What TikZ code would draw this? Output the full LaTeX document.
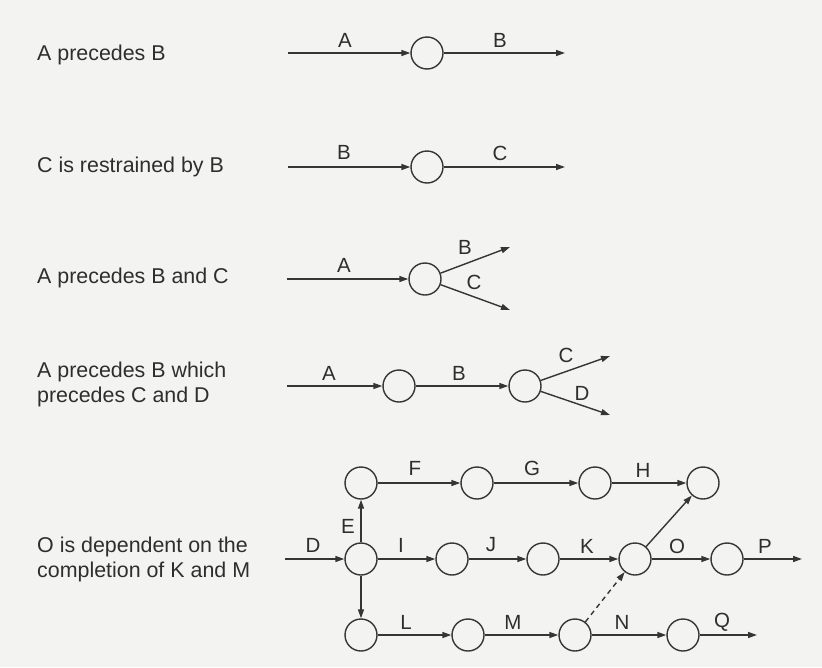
\documentclass[tikz,border=0pt]{standalone}
\usepackage{fontspec}
\setmainfont{Liberation Sans}
\usetikzlibrary{arrows.meta}
\definecolor{linec}{HTML}{353535}
\definecolor{textc}{HTML}{2E2E2E}
\definecolor{paper}{HTML}{F3F3F1}
\begin{document}
\begin{tikzpicture}[x=1pt,y=-1pt,
  ev/.style={circle, draw=linec, line width=1.4pt, minimum size=32pt, inner sep=0pt},
  arr/.style={draw=linec, line width=1.4pt, -{Triangle[length=9pt,width=6pt]}},
  dsh/.style={arr, dash pattern=on 5pt off 4pt},
  lbl/.style={text=textc, font=\fontsize{20.5}{24}\selectfont, inner sep=0pt},
  desc/.style={text=textc, font=\fontsize{21.4}{25}\selectfont, inner sep=0pt, anchor=west, align=left}]
\fill[paper] (0,0) rectangle (822,667);
\useasboundingbox (0,0) rectangle (822,667);

% descriptions
\node[desc] (t1) at (37,55) {A precedes B};
\node[desc] (t2) at (37,167) {C is restrained by B};
\node[desc] (t3) at (37,278) {A precedes B and C};
\node[desc] (t4) at (37,384) {A precedes B which\\precedes C and D};
\node[desc] (t5) at (37,559) {O is dependent on the\\completion of K and M};

% row 1
\coordinate (r1s) at (288,53);
\node[ev] (r1n) at (427,53) {};
\coordinate (r1e) at (565,53);
\draw[arr] (r1s) -- (r1n);
\draw[arr] (r1n) -- (r1e);
\node[lbl] (r1a) at (345,40) {A};
\node[lbl] (r1b) at (500,40) {B};

% row 2
\coordinate (r2s) at (288,167);
\node[ev] (r2n) at (427,167) {};
\coordinate (r2e) at (565,167);
\draw[arr] (r2s) -- (r2n);
\draw[arr] (r2n) -- (r2e);
\node[lbl] (r2a) at (344,152) {B};
\node[lbl] (r2b) at (500,153) {C};

% row 3
\coordinate (r3s) at (287,279);
\node[ev] (r3n) at (425,279) {};
\coordinate (r3u) at (510,247);
\coordinate (r3d) at (510,310);
\draw[arr] (r3s) -- (r3n);
\draw[arr] (r3n) -- (r3u);
\draw[arr] (r3n) -- (r3d);
\node[lbl] (r3a) at (344,265) {A};
\node[lbl] (r3b) at (465,247) {B};
\node[lbl] (r3c) at (474,282) {C};

% row 4
\coordinate (r4s) at (287,386);
\node[ev] (r4n1) at (399,386) {};
\node[ev] (r4n2) at (525,386) {};
\coordinate (r4u) at (610,356);
\coordinate (r4d) at (610,415);
\draw[arr] (r4s) -- (r4n1);
\draw[arr] (r4n1) -- (r4n2);
\draw[arr] (r4n2) -- (r4u);
\draw[arr] (r4n2) -- (r4d);
\node[lbl] (r4a) at (329,373) {A};
\node[lbl] (r4b) at (459,373) {B};
\node[lbl] (r4c) at (566,355) {C};
\node[lbl] (r4d) at (582,393) {D};

% row 5
\node[ev] (e1) at (361,483) {};
\node[ev] (f1) at (477,483) {};
\node[ev] (g1) at (595,483) {};
\node[ev] (h1) at (703,483) {};
\node[ev] (s0) at (361,559) {};
\node[ev] (i1) at (452,559) {};
\node[ev] (j1) at (543,559) {};
\node[ev] (k1) at (635,559) {};
\node[ev] (o1) at (727,559) {};
\node[ev] (b0) at (361,635) {};
\node[ev] (l1) at (468,635) {};
\node[ev] (m1) at (575,635) {};
\node[ev] (n1) at (683,635) {};
\coordinate (ds) at (285,559);
\coordinate (pe) at (802,559);
\coordinate (qe) at (757,635);

\draw[arr] (ds) -- (s0);
\draw[arr] (s0) -- (e1);
\draw[arr] (s0) -- (b0);
\draw[arr] (e1) -- (f1);
\draw[arr] (f1) -- (g1);
\draw[arr] (g1) -- (h1);
\draw[arr] (s0) -- (i1);
\draw[arr] (i1) -- (j1);
\draw[arr] (j1) -- (k1);
\draw[arr] (k1) -- (o1);
\draw[arr] (o1) -- (pe);
\draw[arr] (k1) -- (h1);
\draw[arr] (b0) -- (l1);
\draw[arr] (l1) -- (m1);
\draw[arr] (m1) -- (n1);
\draw[arr] (n1) -- (qe);
\draw[dsh] (m1) -- (k1);

\node[lbl] (lf) at (415,468) {F};
\node[lbl] (lg) at (532,468) {G};
\node[lbl] (lh) at (643,470) {H};
\node[lbl] (le) at (348,526) {E};
\node[lbl] (ld) at (313,545) {D};
\node[lbl] (li) at (401,545) {I};
\node[lbl] (lj) at (491,545) {J};
\node[lbl] (lk) at (587,546) {K};
\node[lbl] (lo) at (677,546) {O};
\node[lbl] (lp) at (765,546) {P};
\node[lbl] (ll) at (406,622) {L};
\node[lbl] (lm) at (513,622) {M};
\node[lbl] (ln) at (622,622) {N};
\node[lbl] (lq) at (722,622) {Q};
\end{tikzpicture}
\end{document}
